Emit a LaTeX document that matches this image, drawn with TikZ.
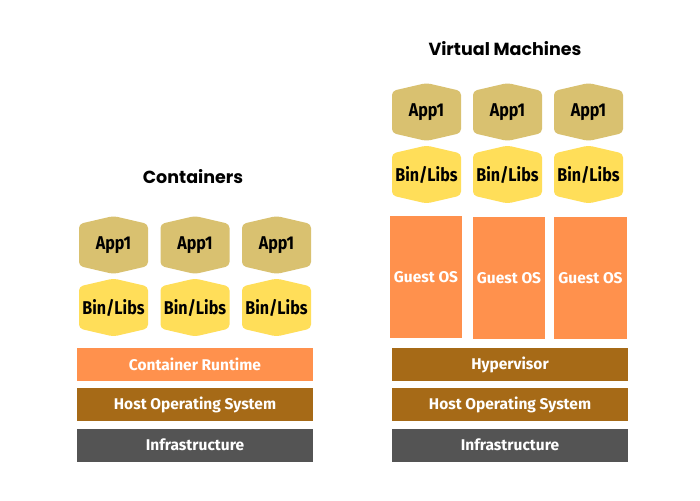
\documentclass[tikz,border=0pt]{standalone}
\usepackage{fontspec}
\setmainfont{Fira Sans}
\newfontfamily\lblfont{Fira Sans}[FakeStretch=0.87]
\newfontfamily\titlefont{Poppins}
\definecolor{appcol}{HTML}{D9C170}
\definecolor{bincol}{HTML}{FFDE59}
\definecolor{orangecol}{HTML}{FF914D}
\definecolor{browncol}{HTML}{A66A17}
\definecolor{graycol}{HTML}{545454}
\tikzset{
  lbl/.style={font=\lblfont\fontsize{18.5}{20}\selectfont\bfseries, text=black, inner sep=0pt},
  wlbl/.style={font=\fontsize{15.5}{17}\selectfont\bfseries, text=white},
  bar/.style={wlbl, minimum width=236pt, minimum height=33pt, inner sep=0pt},
  guest/.style={wlbl, minimum width=72pt, minimum height=122pt, inner sep=0pt, fill=orangecol},
  title/.style={font=\titlefont\fontsize{17.5}{20}\selectfont\bfseries, text=black}
}
\newcommand{\hexbox}[5]{%
  \fill[#3, rounded corners=4pt] (#1-34.5,#2-21) -- (#1,#2-29) -- (#1+34.5,#2-21) -- (#1+34.5,#2+21) -- (#1,#2+29) -- (#1-34.5,#2+21) -- cycle;
  \node[lbl] (#5) at (#1,#2) {#4};}
\begin{document}
\begin{tikzpicture}[x=1pt,y=-1pt]
\useasboundingbox[fill=white] (0,0) rectangle (700,500);
% titles
\node[title] (tc) at (193,177) {Containers};
\node[title] (tv) at (505,49) {Virtual Machines};
% containers
\hexbox{113.5}{245}{appcol}{App1}{ca1}
\hexbox{195}{245}{appcol}{App1}{ca2}
\hexbox{276.5}{245}{appcol}{App1}{ca3}
\hexbox{113.5}{307.5}{bincol}{Bin/Libs}{cb1}
\hexbox{195}{307.5}{bincol}{Bin/Libs}{cb2}
\hexbox{276.5}{307.5}{bincol}{Bin/Libs}{cb3}
\node[bar, fill=orangecol] (crt) at (195,364.5) {Container Runtime};
\node[bar, fill=browncol] (chos) at (195,404.5) {Host Operating System};
\node[bar, fill=graycol] (cinf) at (195,445) {Infrastructure};
% VMs
\hexbox{426.5}{112}{appcol}{App1}{va1}
\hexbox{507.5}{112}{appcol}{App1}{va2}
\hexbox{588.5}{112}{appcol}{App1}{va3}
\hexbox{426.5}{174.5}{bincol}{Bin/Libs}{vb1}
\hexbox{507.5}{174.5}{bincol}{Bin/Libs}{vb2}
\hexbox{588.5}{174.5}{bincol}{Bin/Libs}{vb3}
\node[guest] (g1) at (426,277) {Guest OS};
\node[guest] (g2) at (509,278) {Guest OS};
\node[guest, minimum width=73pt] (g3) at (590.5,278) {Guest OS};
\node[bar, fill=browncol] (hyp) at (510,364.5) {Hypervisor};
\node[bar, fill=browncol] (vhos) at (510,404.5) {Host Operating System};
\node[bar, fill=graycol] (vinf) at (510,445) {Infrastructure};
\end{tikzpicture}
\end{document}
